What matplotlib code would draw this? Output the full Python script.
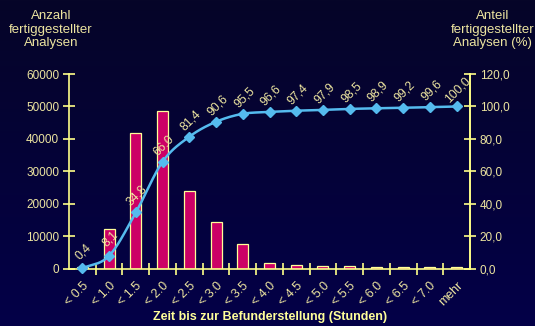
import matplotlib.pyplot as plt
from matplotlib.ticker import FixedLocator, FuncFormatter
import numpy as np

# Zeitklassen bis zur Befundstellung
kategorien = ["< 0.5", "< 1.0", "< 1.5", "< 2.0", "< 2.5", "< 3.0", "< 3.5", "< 4.0",
              "< 4.5", "< 5.0", "< 5.5", "< 6.0", "< 6.5", "< 7.0", "mehr"]
# Anzahl fertiggestellter Analysen je Klasse
anzahl = [600, 12200, 41800, 48700, 24100, 14400, 7700, 1800,
          1250, 850, 900, 600, 500, 700, 600]
# kumulierter Anteil in %
anteil = [0.4, 8.1, 34.8, 66.0, 81.4, 90.6, 95.5, 96.6,
          97.4, 97.9, 98.5, 98.9, 99.2, 99.6, 100.0]

TXT = '#EDE5A0'
ACHSE = '#FFFF88'
BAR = '#CC0066'
LINIE = '#55BBEE'

plt.rcParams['font.family'] = ['Liberation Sans', 'DejaVu Sans']


def catmull_rom(x, y, n=20):
    # glatte Kurve durch alle Punkte (wie "geglättete Linie")
    x = np.asarray(x, float)
    y = np.asarray(y, float)
    px = np.concatenate([[2 * x[0] - x[1]], x, [2 * x[-1] - x[-2]]])
    py = np.concatenate([[2 * y[0] - y[1]], y, [2 * y[-1] - y[-2]]])
    xs, ys = [], []
    t = np.linspace(0, 1, n)
    for i in range(1, len(px) - 2):
        for p, out in ((px, xs), (py, ys)):
            p0, p1, p2, p3 = p[i - 1], p[i], p[i + 1], p[i + 2]
            out.extend(0.5 * ((2 * p1) + (-p0 + p2) * t
                              + (2 * p0 - 5 * p1 + 4 * p2 - p3) * t ** 2
                              + (-p0 + 3 * p1 - 3 * p2 + p3) * t ** 3))
    return np.array(xs), np.array(ys)


fig = plt.figure(figsize=(5.35, 3.26), dpi=100)

# ------ Hintergrund mit Farbverlauf ------
bg = fig.add_axes([0, 0, 1, 1])
grad = np.linspace(0, 1, 256)[:, None]
top = np.array([0x06, 0x05, 0x28]) / 255
bot = np.array([0x03, 0x00, 0x48]) / 255
img = top[None, None, :] * (1 - grad[:, :, None]) + bot[None, None, :] * grad[:, :, None]
bg.imshow(img, aspect='auto', extent=[0, 1, 0, 1])
bg.axis('off')

ax = fig.add_axes([0.129, 0.175, 0.7495, 0.598])
ax.set_facecolor('none')
x = np.arange(len(kategorien))

ax.bar(x, anzahl, width=0.41, color=BAR, edgecolor='#FFFF99', linewidth=0.9, zorder=2)
ax.set_xlim(-0.5, len(kategorien) - 0.5)
ax.set_ylim(0, 60000)
ax.set_yticks(np.arange(0, 60001, 10000))

# ------ Achsen ------
ax.spines['top'].set_visible(False)
for s in ['left', 'bottom', 'right']:
    ax.spines[s].set_color(ACHSE)
    ax.spines[s].set_linewidth(1.2)

ax.set_xticks(x)
ax.set_xticklabels(kategorien, rotation=45, ha='right', rotation_mode='anchor',
                   fontsize=9, color=TXT)
ax.xaxis.set_minor_locator(FixedLocator(np.arange(0.5, len(kategorien) - 1, 1)))
ax.tick_params(axis='x', which='major', length=0, pad=8)
ax.tick_params(axis='x', which='minor', direction='inout', length=8, color=ACHSE, width=1.2)
ax.tick_params(axis='y', direction='inout', length=8, color=ACHSE, width=1.2,
               labelsize=8.5, labelcolor=TXT, pad=3)

# Achsenbeschriftung unten, fest im Bild platziert
fig.text(0.505, 0.028, "Zeit bis zur Befunderstellung (Stunden)", ha='center', va='center',
         fontsize=9, fontweight='bold', color='#FFFF99')

# ------ kumulierte Kurve ------
ax2 = ax.twinx()
ax2.set_ylim(0, 120)
ax2.set_yticks(np.arange(0, 121, 20))
ax2.yaxis.set_major_formatter(FuncFormatter(lambda v, p: f"{v:.1f}".replace('.', ',')))
ax2.tick_params(axis='y', direction='inout', length=8, color=ACHSE, width=1.2,
                labelsize=8.5, labelcolor=TXT, pad=3)
for s in ['top', 'left', 'bottom']:
    ax2.spines[s].set_visible(False)
ax2.spines['right'].set_color(ACHSE)
ax2.spines['right'].set_linewidth(1.2)

sx, sy = catmull_rom(x, anteil)
ax2.plot(sx, sy, color=LINIE, linewidth=1.8, zorder=3, clip_on=False)
ax2.plot(x, anteil, linestyle='none', marker='D', markersize=5,
         color=LINIE, zorder=4, clip_on=False)

for xi, yi in zip(x, anteil):
    ax2.annotate(f"{yi:.1f}".replace('.', ','), xy=(xi, yi), xytext=(1, 12),
                 textcoords='offset points', rotation=45, ha='center', va='center',
                 fontsize=8.8, color=TXT, zorder=5)

# ------ Achsentitel ------
fig.text(0.095, 0.97, "Anzahl\nfertiggestellter\nAnalysen", ha='center', va='top',
         fontsize=9.5, color=TXT, linespacing=1.2)
fig.text(0.92, 0.97, "Anteil\nfertiggestellter\nAnalysen (%)", ha='center', va='top',
         fontsize=9.5, color=TXT, linespacing=1.2)

fig.savefig('out.png', dpi=100)
